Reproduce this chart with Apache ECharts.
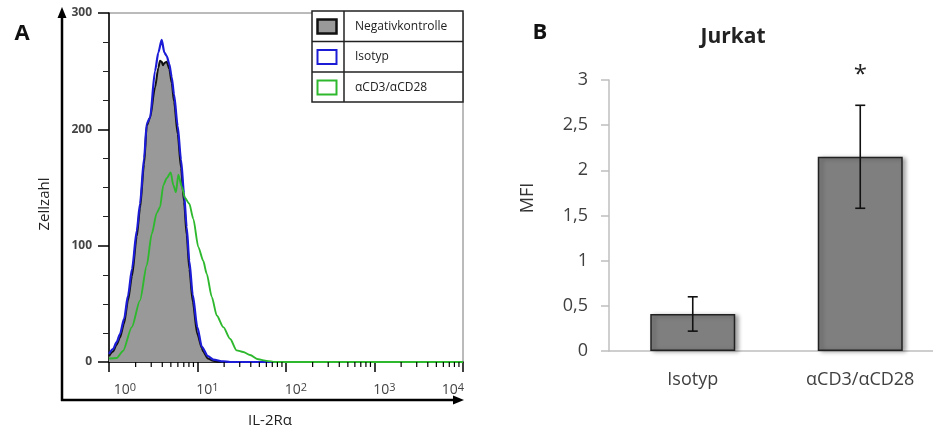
<!DOCTYPE html>
<html><head><meta charset="utf-8">
<script src="https://cdn.jsdelivr.net/npm/echarts@6/dist/echarts.min.js"></script>
<style>html,body{margin:0;padding:0;background:#fff}#c{width:933px;height:430px}</style>
</head><body><div id="c"></div>
<script>
// ---------- Panel A: histogram data (fluorescence IL-2Rα, cell count) ----------
const histNames = ['Negativkontrolle', 'Isotyp', 'αCD3/αCD28'];
const negData = [[1,5],[1.11,9],[1.22,15],[1.33,21],[1.48,33],[1.64,53],[1.82,74],[2.06,108],[2.24,132],[2.49,170],[2.67,203],[2.91,210],[3.31,236],[3.61,253],[3.77,259],[3.94,258],[4.08,255],[4.22,257],[4.49,258],[4.80,252],[5.11,240],[5.43,224],[5.97,196],[6.51,167],[7.04,138],[7.55,109],[8.08,80],[8.83,52],[9.95,24],[11.2,12],[11.6,9],[13.1,3],[15.1,1],[17.0,0],[10000,0]];
const isoData = [[1,7],[1.11,11],[1.22,17],[1.33,24],[1.48,37],[1.64,57],[1.82,80],[2.06,113],[2.24,136],[2.49,175],[2.67,205],[2.91,210],[3.31,250],[3.61,266],[3.94,277],[4.22,266],[4.49,263],[4.80,256],[5.11,245],[5.43,230],[5.97,203],[6.51,174],[7.04,145],[7.55,116],[8.08,87],[8.83,58],[9.95,30],[11.2,13],[13.1,5],[15.1,2],[19.4,0.5],[23.3,0],[10000,0]];
const cd3Data = [[1,3],[1.22,3.5],[1.44,9.5],[1.81,30],[2.24,53],[2.67,83],[3.04,110],[3.46,128],[3.77,133],[4.11,152],[4.49,158],[4.98,163],[5.33,152],[5.71,146],[6.07,161],[6.63,151],[7.22,141],[8.08,136],[8.97,123],[10.2,99],[11.6,87],[12.7,76],[14.5,56],[16.5,40],[19.6,30],[23.3,20],[27.7,10],[32.9,8.6],[39.2,6],[48.6,2.3],[60.5,1],[75.1,0],[10000,0]];
const histColors = ['#111111', '#1c1cd6', '#2eb82e'];
const xMinorTicks = [2,3,4,5,6,7,8,9,20,30,40,50,60,70,80,90,200,300,400,500,600,700,800,900,2000,3000,4000,5000,6000,7000,8000,9000];

// ---------- Panel B: bar chart data ----------
const barCategories = ['Isotyp', 'αCD3/αCD28'];
const barValues = [0.41, 2.15];
const barErrors = [0.19, 0.57];
const significance = ['', '*'];

const FONT = 'Open Sans';
const chart = echarts.init(document.getElementById('c'), null, {renderer: 'canvas'});

const supRich = {
  b:  {fontSize: 14, fontFamily: FONT, color: '#444', lineHeight: 15, verticalAlign: 'bottom', padding: [0,0,0,20]},
  b0: {fontSize: 14, fontFamily: FONT, color: '#444', lineHeight: 15, verticalAlign: 'bottom', padding: [0,0,0,32]},
  bn: {fontSize: 14, fontFamily: FONT, color: '#444', lineHeight: 15, verticalAlign: 'bottom'},
  s:  {fontSize: 11, fontFamily: FONT, color: '#444', lineHeight: 11, verticalAlign: 'top', padding: [0,0,10,0]},
  s4: {fontSize: 11, fontFamily: FONT, color: '#444', lineHeight: 11, verticalAlign: 'top', padding: [0,20,10,0]}
};

const legendGraphics = [];
legendGraphics.push({type: 'rect', shape: {x: 312, y: 11, width: 151, height: 91}, style: {fill: '#fff', stroke: '#222', lineWidth: 1.5}, z: 10});
legendGraphics.push({type: 'line', shape: {x1: 312, y1: 41.5, x2: 463, y2: 41.5}, style: {stroke: '#222', lineWidth: 1.5}, z: 11});
legendGraphics.push({type: 'line', shape: {x1: 312, y1: 72, x2: 463, y2: 72}, style: {stroke: '#222', lineWidth: 1.5}, z: 11});
legendGraphics.push({type: 'line', shape: {x1: 344, y1: 11, x2: 344, y2: 102}, style: {stroke: '#222', lineWidth: 1.5}, z: 11});
histNames.forEach((name, i) => {
  const cy = 26.5 + i * 30.5;
  legendGraphics.push({type: 'rect', shape: {x: 317.5, y: cy - 7, width: 19, height: 14},
    style: {fill: i === 0 ? '#999999' : '#ffffff', stroke: histColors[i], lineWidth: i === 0 ? 2.5 : 2}, z: 11});
  legendGraphics.push({type: 'text', x: 355, y: cy, style: {text: name, fontSize: 12, fontFamily: FONT, fill: '#222', align: 'left', verticalAlign: 'middle'}, z: 11});
});

const option = {
  backgroundColor: '#fff',
  animation: false,
  grid: [
    {left: 109, top: 13, width: 354, height: 349, show: true, borderColor: '#777', borderWidth: 1, backgroundColor: 'transparent', containLabel: false, outerBoundsMode: 'none'},
    {left: 609, top: 80, width: 335, height: 271, containLabel: false, outerBoundsMode: 'none'}
  ],
  xAxis: [
    {gridIndex: 0, type: 'log', logBase: 10, min: 1, max: 10000,
     axisLine: {show: true, onZero: false, lineStyle: {color: '#000', width: 1.5}},
     axisTick: {show: true, length: 10, lineStyle: {color: '#000', width: 1.5}},
     minorTick: {show: false}, splitLine: {show: false},
     axisLabel: {margin: 20, rich: supRich,
       formatter: function (v) {
         const e = Math.round(Math.log10(v));
         const bs = e === 0 ? 'b0' : (e === 4 ? 'bn' : 'b');
         const ss = e === 4 ? 's4' : 's';
         return '{' + bs + '|10}{' + ss + '|' + e + '}';
       }}},
    {gridIndex: 1, type: 'category', data: barCategories,
     axisLine: {show: true, lineStyle: {color: '#bfbfbf', width: 1.5}},
     axisTick: {show: false},
     axisLabel: {margin: 20, fontSize: 18, fontFamily: FONT, color: '#404040'}}
  ],
  yAxis: [
    {gridIndex: 0, type: 'value', min: 0, max: 300, interval: 100,
     axisLine: {show: true, lineStyle: {color: '#000', width: 1.5}},
     axisTick: {show: true, length: 11, lineStyle: {color: '#000', width: 1.5}},
     minorTick: {show: true, splitNumber: 4, length: 6, lineStyle: {color: '#222', width: 1}},
     splitLine: {show: false},
     axisLabel: {margin: 17, fontSize: 12, fontWeight: 'bold', fontFamily: FONT, color: '#444'}},
    {gridIndex: 1, type: 'value', min: 0, max: 3, interval: 0.5,
     axisLine: {show: true, lineStyle: {color: '#bfbfbf', width: 1.5}},
     axisTick: {show: true, length: 8, lineStyle: {color: '#bfbfbf', width: 1.5}},
     splitLine: {show: false},
     axisLabel: {margin: 21, fontSize: 18, fontFamily: FONT, color: '#404040',
       formatter: v => String(v).replace('.', ',')}}
  ],
  series: [
    {name: histNames[0], type: 'line', xAxisIndex: 0, yAxisIndex: 0, data: negData, showSymbol: false,
     smooth: 0.25, smoothMonotone: 'x', lineStyle: {color: histColors[0], width: 2},
     areaStyle: {color: '#999999', opacity: 1}, itemStyle: {color: histColors[0]}},
    {name: histNames[1], type: 'line', xAxisIndex: 0, yAxisIndex: 0, data: isoData, showSymbol: false,
     smooth: 0.25, smoothMonotone: 'x', lineStyle: {color: histColors[1], width: 2.2}, itemStyle: {color: histColors[1]}},
    {name: histNames[2], type: 'line', xAxisIndex: 0, yAxisIndex: 0, data: cd3Data, showSymbol: false,
     smooth: 0.25, smoothMonotone: 'x', lineStyle: {color: histColors[2], width: 1.9}, itemStyle: {color: histColors[2]}},
    {type: 'custom', xAxisIndex: 0, yAxisIndex: 0, silent: true, clip: false, z: 5,
     data: xMinorTicks.map(v => [v, 0]),
     renderItem: function (params, api) {
       const p = api.coord([api.value(0), 0]);
       return {type: 'line', shape: {x1: p[0], y1: p[1], x2: p[0], y2: p[1] + 5}, style: {stroke: '#000', lineWidth: 1.2}};
     }},
    {name: 'MFI', type: 'bar', xAxisIndex: 1, yAxisIndex: 1, data: barValues, barWidth: 85,
     itemStyle: {color: '#7f7f7f', borderColor: '#222', borderWidth: 1.5,
       shadowColor: 'rgba(0,0,0,0.35)', shadowBlur: 4, shadowOffsetX: 3, shadowOffsetY: 1}},
    {type: 'custom', xAxisIndex: 1, yAxisIndex: 1, silent: true, clip: false, z: 5,
     data: barValues.map((v, i) => [i, v, barErrors[i]]),
     encode: {x: 0, y: 1},
     renderItem: function (params, api) {
       const i = api.value(0), v = api.value(1), e = api.value(2);
       const top = api.coord([i, v + e]);
       const bot = api.coord([i, v - e]);
       const hw = 5;
       const st = {stroke: '#111', lineWidth: 1.6};
       const children = [
         {type: 'line', shape: {x1: top[0], y1: top[1], x2: bot[0], y2: bot[1]}, style: st},
         {type: 'line', shape: {x1: top[0] - hw, y1: top[1], x2: top[0] + hw, y2: top[1]}, style: st},
         {type: 'line', shape: {x1: bot[0] - hw, y1: bot[1], x2: bot[0] + hw, y2: bot[1]}, style: st}
       ];
       if (significance[i]) {
         children.push({type: 'text', x: top[0], y: top[1] - 30,
           style: {text: significance[i], fontSize: 24, fontFamily: FONT, fill: '#222', align: 'center', verticalAlign: 'middle'}});
       }
       return {type: 'group', children: children};
     }}
  ],
  graphic: [
    {type: 'text', x: 22, y: 34, style: {text: 'A', fontSize: 22, fontWeight: 'bold', fontFamily: FONT, fill: '#111', align: 'center', verticalAlign: 'middle'}},
    {type: 'text', x: 540, y: 33, style: {text: 'B', fontSize: 22, fontWeight: 'bold', fontFamily: FONT, fill: '#111', align: 'center', verticalAlign: 'middle'}},
    {type: 'text', x: 733, y: 37, style: {text: 'Jurkat', fontSize: 21, fontWeight: 'bold', fontFamily: FONT, fill: '#222', align: 'center', verticalAlign: 'middle'}},
    {type: 'text', x: 45, y: 204, rotation: Math.PI / 2, style: {text: 'Zellzahl', fontSize: 15, fontFamily: FONT, fill: '#222', align: 'center', verticalAlign: 'middle'}},
    {type: 'text', x: 270, y: 421, style: {text: 'IL-2Rα', fontSize: 15, fontFamily: FONT, fill: '#222', align: 'center', verticalAlign: 'middle'}},
    {type: 'text', x: 528, y: 198, rotation: Math.PI / 2, style: {text: 'MFI', fontSize: 18, fontFamily: FONT, fill: '#333', align: 'center', verticalAlign: 'middle'}},
    {type: 'line', shape: {x1: 62, y1: 401, x2: 62, y2: 16}, style: {stroke: '#000', lineWidth: 2.5}},
    {type: 'polygon', shape: {points: [[62, 7], [57.5, 18], [66.5, 18]]}, style: {fill: '#000'}},
    {type: 'line', shape: {x1: 61, y1: 400, x2: 455, y2: 400}, style: {stroke: '#000', lineWidth: 2.5}},
    {type: 'polygon', shape: {points: [[464, 400], [453, 395.5], [453, 404.5]]}, style: {fill: '#000'}}
  ].concat(legendGraphics)
};
chart.setOption(option);
</script>
</body></html>
